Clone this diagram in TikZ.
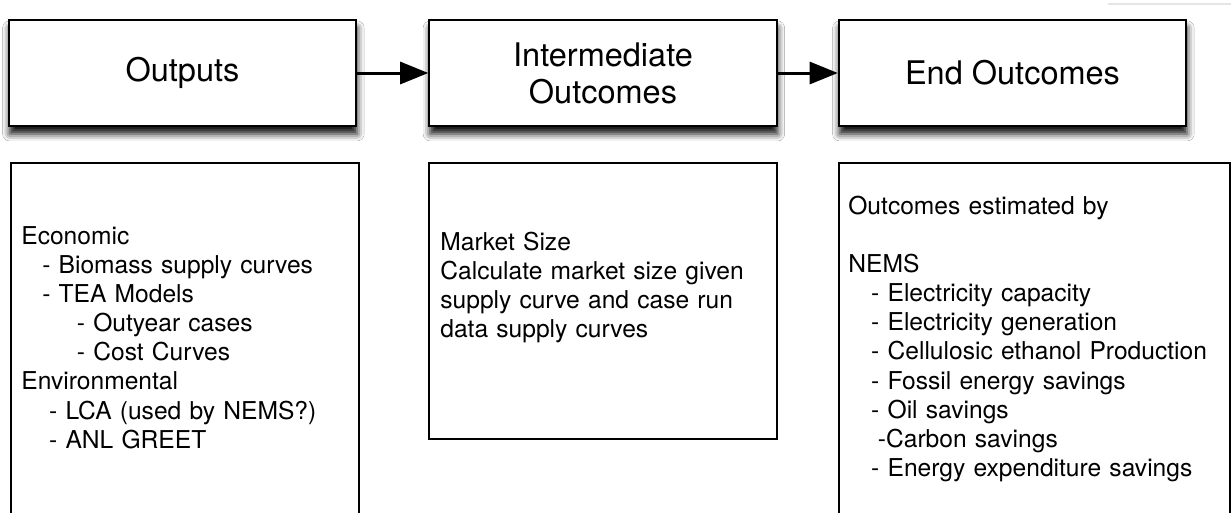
\documentclass[tikz,border=0pt]{standalone}
\usepackage{fontspec}
\setmainfont{TeX Gyre Heros}
\usetikzlibrary{arrows.meta,shadows.blur}

\begin{document}
\begin{tikzpicture}[x=0.02cm, y=-0.02cm,
  stage/.style={draw, line width=1.1pt, fill=white, minimum width=6.95cm, minimum height=2.12cm,
    align=center, font=\fontsize{18.5}{21}\selectfont,
    blur shadow={shadow xshift=0.5pt, shadow yshift=-4.5pt, shadow blur radius=4pt, shadow opacity=95}},
  panel/.style={draw, line width=1.1pt, minimum width=6.96cm, inner sep=0pt},
  listtext/.style={anchor=base west, inner sep=0pt, align=left, font=\fontsize{14}{16.6}\selectfont},
  flow/.style={-{Triangle[length=16pt, width=12.5pt]}, line width=1.7pt}]
\useasboundingbox (0,0) rectangle (1231,512);
\clip (0,0) rectangle (1231,512);
\fill[white] (0,0) rectangle (1231,512);
\draw[gray!20, line width=0.6pt] (1108,4) -- (1231,4);

% stages
\node[stage] (outputs) at (182.5,73) {Outputs};
\node[stage] (inter) at (603,73) {Intermediate\\Outcomes};
\node[stage] (endout) at (1012.5,73) {End Outcomes};
\draw[flow] (outputs.east) -- (inter.west);
\draw[flow] (inter.east) -- (endout.west);

% panels below
\node[panel, minimum height=7.34cm] (econbox) at (185,346.5) {};
\node[panel, minimum height=5.52cm] (mktbox) at (603,301) {};
\node[panel, minimum width=7.82cm, minimum height=7.34cm] (nemsbox) at (1034.5,346.5) {};

\node[listtext, text width=6.6cm] (econtext) at (21,244) {Economic\\
\hspace*{0.85em}- Biomass supply curves\\
\hspace*{0.85em}- TEA Models\\
\hspace*{2.26em}- Outyear cases\\
\hspace*{2.26em}- Cost Curves\\
Environmental\\
\hspace*{1.13em}- LCA (used by NEMS?)\\
\hspace*{1.13em}- ANL GREET};
\node[listtext, text width=6.6cm] (mkttext) at (440,250) {Market Size\\
Calculate market size given\\
supply curve and case run\\
data supply curves};
\node[listtext, text width=7.6cm] (nemstext) at (848,214) {Outcomes estimated by\\[16.6pt]
NEMS\\
\hspace*{0.93em}- Electricity capacity\\
\hspace*{0.93em}- Electricity generation\\
\hspace*{0.93em}- Cellulosic ethanol Production\\
\hspace*{0.93em}- Fossil energy savings\\
\hspace*{0.93em}- Oil savings\\
\hspace*{1.2em}-Carbon savings\\
\hspace*{0.93em}- Energy expenditure savings};
\end{tikzpicture}
\end{document}
